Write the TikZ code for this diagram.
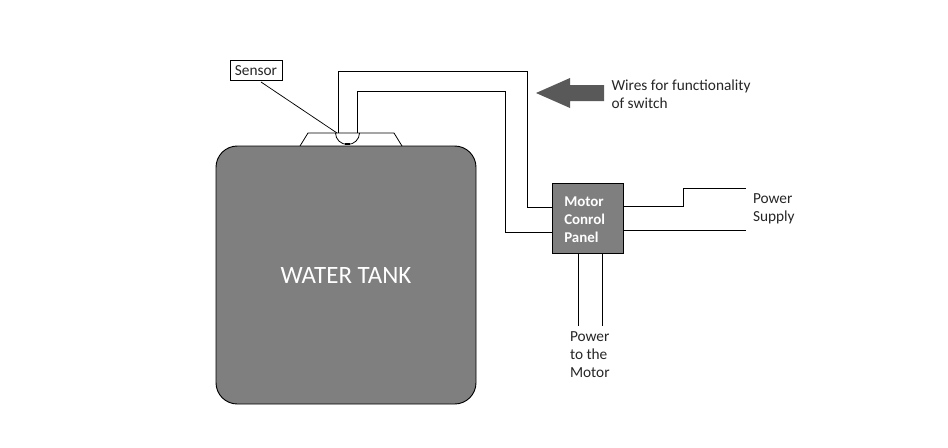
\documentclass[tikz,border=0pt]{standalone}
\usepackage{fontspec}
\setmainfont{Carlito}
\usetikzlibrary{calc}
\definecolor{tankgray}{HTML}{7F7F7F}
\definecolor{arrowgray}{HTML}{595959}
\tikzset{
  px/.style={x=0.75pt,y=-0.75pt},
  wire/.style={draw=black,line width=0.72pt},
  thin wire/.style={draw=black,line width=0.6pt},
  lbl/.style={inner sep=0pt,outer sep=0pt,align=left,text=black!85,font=\fontsize{11.5pt}{13.5pt}\selectfont},
  tank/.style={draw=black,line width=0.7pt,fill=tankgray,rounded corners=16pt},
  panel/.style={draw=black,line width=0.75pt,fill=tankgray,minimum width=53.25pt,minimum height=52.5pt,inner sep=0pt}
}
\begin{document}
\begin{tikzpicture}[px]
\useasboundingbox (0,0) rectangle (948,447);
% tank
\draw[tank] (216,146) rectangle (476,404);
\node[inner sep=0pt,text=white,font=\fontsize{18.7pt}{20pt}\selectfont] (tanklabel) at (346,275.5) {WATER TANK};
% lid
\coordinate (lidL) at (300,146);
\coordinate (lidTL) at (308,133);
\coordinate (lidTR) at (394,133);
\coordinate (lidR) at (402,146);
\draw[thin wire] (lidL) -- (lidTL) -- (lidTR) -- (lidR);
% float
\coordinate (floatL) at (335.5,133);
\coordinate (floatR) at (359.5,133);
\draw[thin wire] (floatL) arc[start angle=180,end angle=360,x radius=12,y radius=-11.5];
\draw[line width=1.4pt] (345,144.3) -- (350,144.3);
% sensor
\node[draw=black,line width=0.7pt,fill=white,minimum width=39pt,minimum height=14.5pt,inner sep=0pt,text=black!85,font=\fontsize{11.5pt}{12pt}\selectfont] (sensor) at (256,70.5) {Sensor};
\coordinate (sensorTip) at (337,133);
\draw[line width=0.55pt] (261,82) -- (sensorTip);
% panel
\node[panel] (mcp) at (587.5,218) {};
\node[inner sep=0pt,align=left,text=white,font=\fontsize{11.2pt}{13.5pt}\bfseries\selectfont,anchor=west] (mcplabel) at (564,220) {Motor\\Conrol\\Panel};
% wires
\coordinate (w1) at (338,133);
\coordinate (w2) at (357,133);
\draw[wire] (w1) -- (338,71) -- (527,71) -- (527,207) -- (mcp.west |- 0,207);
\draw[wire] (w2) -- (357,91) -- (505,91) -- (505,232) -- (mcp.west |- 0,232);
\coordinate (p1) at (746,188);
\coordinate (p2) at (746,230);
\draw[wire] (mcp.east |- 0,206) -- (683,206) -- (683,188) -- (p1);
\draw[wire] (mcp.east |- 0,230) -- (p2);
\coordinate (m1) at (578,326);
\coordinate (m2) at (602,326);
\draw[wire] (m1 |- mcp.south) -- (m1);
\draw[wire] (m2 |- mcp.south) -- (m2);
% arrow
\fill[arrowgray] (536,93) -- (570,78) -- (570,85) -- (604,85) -- (604,101) -- (570,101) -- (570,108) -- cycle;
% labels
\node[lbl,anchor=north west] (wireslabel) at (611.5,80) {Wires for functionality\\of switch};
\node[lbl,anchor=north west] (powersupply) at (753,193.5) {Power\\Supply};
\node[lbl,anchor=north west] (powermotor) at (570,331.5) {Power\\to the\\Motor};
\end{tikzpicture}
\end{document}
